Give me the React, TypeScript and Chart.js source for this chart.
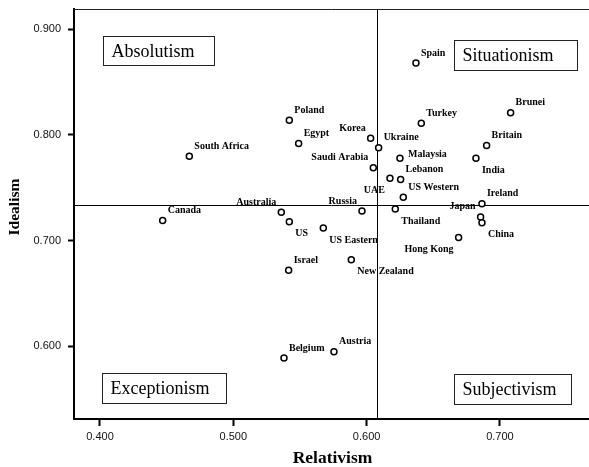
import React, { useEffect, useRef } from "react";
import { Chart, registerables } from "chart.js";

Chart.register(...registerables);

// ---- data ----
const countries = [
  "Spain", "Brunei", "Turkey", "Poland", "Egypt", "South Africa", "Korea", "Ukraine",
  "Saudi Arabia", "Malaysia", "Britain", "India", "Lebanon", "UAE", "US Western",
  "Ireland", "Japan", "China", "Russia", "Thailand", "Hong Kong", "Australia", "US",
  "US Eastern", "Canada", "Israel", "New Zealand", "Belgium", "Austria",
];
const relativism = [
  0.637, 0.708, 0.641, 0.542, 0.549, 0.467, 0.603, 0.609,
  0.605, 0.625, 0.690, 0.682, 0.6255, 0.6175, 0.6275,
  0.6865, 0.6855, 0.6865, 0.5965, 0.6215, 0.669, 0.536, 0.542,
  0.5675, 0.447, 0.5415, 0.5885, 0.538, 0.5755,
];
const idealism = [
  0.868, 0.821, 0.811, 0.814, 0.792, 0.780, 0.797, 0.788,
  0.769, 0.778, 0.790, 0.778, 0.758, 0.759, 0.741,
  0.735, 0.7225, 0.717, 0.728, 0.730, 0.703, 0.727, 0.718,
  0.712, 0.719, 0.672, 0.682, 0.589, 0.595,
];
const xTickValues = [0.4, 0.5, 0.6, 0.7];
const yTickValues = [0.6, 0.7, 0.8, 0.9];
const relativismMean = 0.608;
const idealismMean = 0.734;
const quadrantNames = ["Absolutism", "Situationism", "Exceptionism", "Subjectivism"];
const xTitle = "Relativism";
const yTitle = "Idealism";

// ---- styling / placement (not data) ----
const labelPlacement: Record<string, string> = {
  Korea: "ul", "Saudi Arabia": "ul", Malaysia: "r", India: "lr", UAE: "ll",
  Japan: "ul", China: "lr", Russia: "ul", Thailand: "lr", "Hong Kong": "ll",
  Australia: "ul", US: "lr", "US Eastern": "lr", "New Zealand": "lr",
};
const placementOffsets: Record<string, { dx: number; dy: number; align: CanvasTextAlign }> = {
  ur: { dx: 5, dy: -10, align: "left" },
  ul: { dx: -5, dy: -10, align: "right" },
  lr: { dx: 6, dy: 12, align: "left" },
  ll: { dx: -5, dy: 12, align: "right" },
  r: { dx: 8, dy: -4, align: "left" },
};
const quadrantBoxes = [
  { x: 0.402, y: 0.894, w: 111, h: 29 },
  { x: 0.6655, y: 0.890, w: 123, h: 30 },
  { x: 0.4013, y: 0.5748, w: 124, h: 30 },
  { x: 0.6655, y: 0.5739, w: 117, h: 30 },
];

const overlayPlugin = {
  id: "overlay",
  beforeDatasetsDraw(chart: any) {
    const { ctx, chartArea: a, scales } = chart;
    const x = scales.x, y = scales.y;
    ctx.save();
    ctx.strokeStyle = "#000";
    ctx.lineWidth = 1;
    const px = Math.round(x.getPixelForValue(relativismMean)) + 0.5;
    const py = Math.round(y.getPixelForValue(idealismMean)) + 0.5;
    ctx.beginPath();
    ctx.moveTo(px, a.top);
    ctx.lineTo(px, a.bottom);
    ctx.moveTo(a.left, py);
    ctx.lineTo(a.right, py);
    ctx.stroke();
    ctx.strokeStyle = "#222";
    ctx.beginPath();
    ctx.moveTo(a.left, a.top + 0.5);
    ctx.lineTo(a.right, a.top + 0.5);
    ctx.stroke();
    // quadrant boxes
    ctx.font = "18px 'Liberation Serif', 'Times New Roman', serif";
    ctx.textBaseline = "middle";
    ctx.textAlign = "left";
    quadrantBoxes.forEach((b, i) => {
      const bx = Math.round(x.getPixelForValue(b.x)) + 0.5;
      const by = Math.round(y.getPixelForValue(b.y)) + 0.5;
      ctx.fillStyle = "#fff";
      ctx.fillRect(bx, by, b.w, b.h);
      ctx.strokeStyle = "#222";
      ctx.strokeRect(bx, by, b.w, b.h);
      ctx.fillStyle = "#000";
      ctx.fillText(quadrantNames[i], bx + 8, by + b.h / 2 + 1);
    });
    ctx.restore();
  },
  afterDatasetsDraw(chart: any) {
    const { ctx } = chart;
    const meta = chart.getDatasetMeta(0);
    ctx.save();
    ctx.font = "bold 10px 'Liberation Serif', 'Times New Roman', serif";
    ctx.fillStyle = "#000";
    ctx.textBaseline = "middle";
    meta.data.forEach((pt: any, i: number) => {
      const name = countries[i];
      const o = placementOffsets[labelPlacement[name] || "ur"];
      ctx.textAlign = o.align;
      ctx.fillText(name, pt.x + o.dx, pt.y + o.dy);
    });
    ctx.restore();
  },
  afterDraw(chart: any) {
    const { ctx, chartArea: a } = chart;
    ctx.save();
    ctx.fillStyle = "#000";
    ctx.textAlign = "center";
    ctx.textBaseline = "middle";
    ctx.font = "bold 17.5px 'Liberation Serif', 'Times New Roman', serif";
    ctx.fillText(xTitle, (a.left + a.right) / 2 + 1, 458);
    ctx.translate(15, (a.top + a.bottom) / 2 - 7);
    ctx.rotate(-Math.PI / 2);
    ctx.font = "bold 15.5px 'Liberation Serif', 'Times New Roman', serif";
    ctx.fillText(yTitle, 0, 0);
    ctx.restore();
  },
};

export default function App() {
  const canvasRef = useRef<HTMLCanvasElement | null>(null);

  useEffect(() => {
    if (!canvasRef.current) return;
    const tickFont = { family: "'Liberation Sans', Arial, sans-serif", size: 11 };
    const chart = new Chart(canvasRef.current, {
      type: "scatter",
      data: {
        datasets: [
          {
            data: relativism.map((r, i) => ({ x: r, y: idealism[i] })),
            pointRadius: 3,
            pointBorderWidth: 1.5,
            pointBorderColor: "#000",
            pointBackgroundColor: "#fff",
            pointHoverRadius: 3,
          },
        ],
      },
      options: {
        animation: false,
        responsive: false,
        devicePixelRatio: 1,
        events: [],
        layout: { autoPadding: false, padding: { top: 9, left: 0, right: 0, bottom: 0 } },
        plugins: { legend: { display: false }, tooltip: { enabled: false } },
        scales: {
          x: {
            type: "linear",
            position: "bottom",
            min: 0.3805,
            max: 0.7668,
            afterFit: (s: any) => {
              s.height = 48;
              s.paddingLeft = 0;
              s.paddingRight = 0;
            },
            afterBuildTicks: (s: any) => { s.ticks = xTickValues.map((v) => ({ value: v })); },
            ticks: {
              callback: (v: any) => Number(v).toFixed(3),
              font: tickFont,
              color: "#111",
              padding: 4,
              maxRotation: 0,
              autoSkip: false,
            },
            grid: { display: true, drawOnChartArea: false, drawTicks: true, tickLength: 7, tickWidth: 2, tickColor: "#000" },
            border: { display: true, color: "#000", width: 2 },
          },
          y: {
            type: "linear",
            position: "left",
            min: 0.5313,
            max: 0.9192,
            afterFit: (s: any) => {
              s.width = 74;
              s.paddingTop = 0;
              s.paddingBottom = 0;
            },
            afterBuildTicks: (s: any) => { s.ticks = yTickValues.map((v) => ({ value: v })); },
            ticks: {
              callback: (v: any) => Number(v).toFixed(3),
              font: tickFont,
              color: "#111",
              padding: 7,
              autoSkip: false,
            },
            grid: { display: true, drawOnChartArea: false, drawTicks: true, tickLength: 6, tickWidth: 2, tickColor: "#000" },
            border: { display: true, color: "#000", width: 2 },
          },
        },
      },
      plugins: [overlayPlugin],
    } as any);
    return () => chart.destroy();
  }, []);

  return (
    <div style={{ position: "fixed", left: 0, top: 0, width: 589, height: 467, background: "#fff" }}>
      <canvas ref={canvasRef} width={589} height={467} />
    </div>
  );
}
